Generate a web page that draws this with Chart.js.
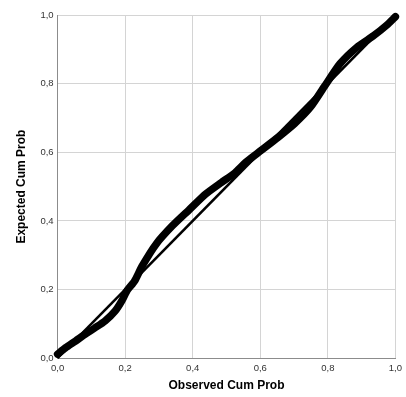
<!DOCTYPE html>
<html>
<head>
<meta charset="utf-8">
<script src="https://cdn.jsdelivr.net/npm/chart.js@4/dist/chart.umd.min.js"></script>
<style>
    body { margin: 0; background: #ffffff; }
    #wrap { width: 406px; height: 397px; }
</style>
</head>
<body>
<div id="wrap"><canvas id="ppChart" width="406" height="397"></canvas></div>
<script>
// Observed vs expected cumulative probability
const observedCum = [0.0, 0.023, 0.053, 0.082, 0.11, 0.14, 0.17, 0.19, 0.205, 0.228, 0.25, 0.292, 0.34, 0.389, 0.438, 0.485, 0.526, 0.556, 0.602, 0.652, 0.702, 0.749, 0.79, 0.836, 0.886, 0.936, 0.974, 1.0];
const expectedCum = [0.012, 0.03, 0.05, 0.07, 0.088, 0.108, 0.137, 0.167, 0.196, 0.225, 0.268, 0.333, 0.386, 0.432, 0.478, 0.512, 0.541, 0.57, 0.605, 0.643, 0.684, 0.732, 0.792, 0.858, 0.906, 0.94, 0.97, 0.995];

// Reference line of perfect fit
const diagonalX = [0, 1];
const diagonalY = [0, 1];

const tickValues = [0, 0.2, 0.4, 0.6, 0.8, 1.0];

// Format ticks with a comma decimal, like the original
function commaTick(value) {
    return Number(value).toFixed(1).replace('.', ',');
}

const ctx = document.getElementById('ppChart').getContext('2d');

const curvePoints = observedCum.map((x, i) => ({ x: x, y: expectedCum[i] }));
const diagonalPoints = diagonalX.map((x, i) => ({ x: x, y: diagonalY[i] }));

const axisStyle = {
    type: 'linear',
    min: 0,
    max: 1,
    afterBuildTicks: axis => {
        axis.ticks = tickValues.map(v => ({ value: v }));
    },
    grid: {
        color: '#d4d4d4',
        lineWidth: 1,
        drawTicks: false
    },
    border: {
        color: '#8c8c8c',
        width: 1
    }
};

new Chart(ctx, {
    type: 'scatter',
    data: {
        datasets: [
            {
                label: 'Diagonal',
                data: diagonalPoints,
                showLine: true,
                borderColor: '#000000',
                borderWidth: 2.5,
                pointRadius: 0,
                clip: false
            },
            {
                label: 'Observed',
                data: curvePoints,
                showLine: true,
                borderColor: '#000000',
                borderWidth: 7.5,
                borderCapStyle: 'round',
                borderJoinStyle: 'round',
                tension: 0.2,
                pointRadius: 0,
                clip: false
            }
        ]
    },
    options: {
        responsive: false,
        animation: false,
        layout: {
            padding: { top: 15, right: 3, bottom: 4, left: 14 }
        },
        plugins: {
            legend: { display: false },
            tooltip: { enabled: false }
        },
        scales: {
            x: {
                ...axisStyle,
                ticks: {
                    padding: 4,
                    color: '#333333',
                    font: { family: 'Liberation Sans', size: 9.5 },
                    maxRotation: 0,
                    callback: commaTick
                },
                title: {
                    display: true,
                    text: 'Observed Cum Prob',
                    color: '#000000',
                    font: { family: 'Liberation Sans', size: 12, weight: 'bold' },
                    padding: { top: 1, bottom: 0 }
                }
            },
            y: {
                ...axisStyle,
                ticks: {
                    padding: 4,
                    color: '#333333',
                    font: { family: 'Liberation Sans', size: 9.5 },
                    callback: commaTick
                },
                title: {
                    display: true,
                    text: 'Expected Cum Prob',
                    color: '#000000',
                    font: { family: 'Liberation Sans', size: 12, weight: 'bold' },
                    padding: { top: 0, bottom: 8 }
                }
            }
        }
    }
});
</script>
</body>
</html>
